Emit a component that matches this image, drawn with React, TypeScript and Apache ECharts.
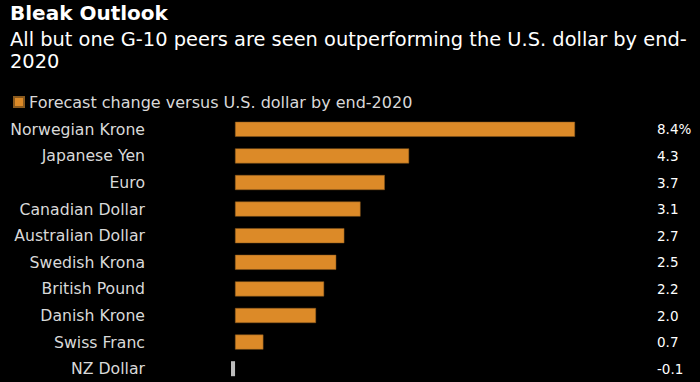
import React, { useEffect, useRef } from "react";
import * as echarts from "echarts";

const categories = [
  "Norwegian Krone",
  "Japanese Yen",
  "Euro",
  "Canadian Dollar",
  "Australian Dollar",
  "Swedish Krona",
  "British Pound",
  "Danish Krone",
  "Swiss Franc",
  "NZ Dollar",
];
const values = [8.4, 4.3, 3.7, 3.1, 2.7, 2.5, 2.2, 2.0, 0.7, -0.1];
const valueLabels = ["8.4%", "4.3", "3.7", "3.1", "2.7", "2.5", "2.2", "2.0", "0.7", "-0.1"];

const FONT = "'DejaVu Sans', sans-serif";

export default function App() {
  const ref = useRef<HTMLDivElement>(null);
  useEffect(() => {
    if (!ref.current) return;
    const chart = echarts.init(ref.current, undefined, { renderer: "svg" });
    chart.setOption({
      animation: false,
      backgroundColor: "#000000",
      textStyle: { fontFamily: FONT },
      graphic: [
        {
          type: "text",
          left: 10,
          top: 3,
          style: { text: "Bleak Outlook", fill: "#ffffff", font: `bold 20px ${FONT}` },
        },
        {
          type: "text",
          left: 10,
          top: 28,
          style: {
            text: "All but one G-10 peers are seen outperforming the U.S. dollar by end-\n2020",
            fill: "#ffffff",
            font: `19.4px ${FONT}`,
            lineHeight: 22,
          },
        },
      ],
      legend: {
        left: 8,
        top: 89,
        itemWidth: 10,
        itemHeight: 10,
        itemGap: 8,
        icon: "rect",
        textStyle: { color: "#d9d9d9", fontSize: 16, fontFamily: FONT },
        data: ["Forecast change versus U.S. dollar by end-2020"],
      },
      grid: { left: 231, right: 125, top: 116, bottom: 0, containLabel: false },
      xAxis: {
        type: "value",
        min: -0.1,
        max: 8.4,
        show: false,
      },
      yAxis: [
        {
          type: "category",
          data: categories,
          inverse: true,
          axisLine: { show: false },
          axisTick: { show: false },
          axisLabel: { color: "#d9d9d9", fontSize: 15.7, margin: 86, fontFamily: FONT },
        },
        {
          type: "category",
          data: valueLabels,
          inverse: true,
          position: "right",
          axisLine: { show: false },
          axisTick: { show: false },
          axisLabel: { color: "#ffffff", fontSize: 13.5, margin: 82, align: "left", fontFamily: FONT },
        },
      ],
      series: [
        {
          name: "Forecast change versus U.S. dollar by end-2020",
          type: "bar",
          data: values.map((v) => ({
            value: v,
            itemStyle: v < 0 ? { color: "#bdbdbd", borderWidth: 0 } : undefined,
          })),
          barWidth: 15,
          itemStyle: { color: "#dc8a28", borderColor: "#8a5a1e", borderWidth: 0.5 },
        },
      ],
    });
    return () => chart.dispose();
  }, []);
  return <div ref={ref} style={{ width: 700, height: 382, position: "absolute", left: 0, top: 0 }} />;
}
